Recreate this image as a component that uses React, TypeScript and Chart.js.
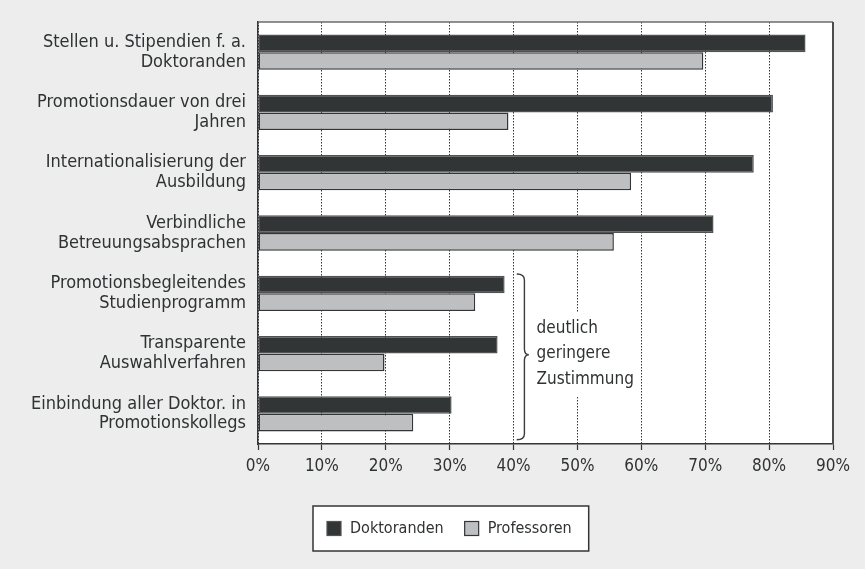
import React, { useEffect, useRef } from "react";
import { Chart, registerables } from "chart.js";

Chart.register(...registerables);

const categories: string[][] = [
  ["Stellen u. Stipendien f. a.", "Doktoranden"],
  ["Promotionsdauer von drei", "Jahren"],
  ["Internationalisierung der", "Ausbildung"],
  ["Verbindliche", "Betreuungsabsprachen"],
  ["Promotionsbegleitendes", "Studienprogramm"],
  ["Transparente", "Auswahlverfahren"],
  ["Einbindung aller Doktor. in", "Promotionskollegs"],
];
const doktoranden: number[] = [85.7, 80.6, 77.6, 71.3, 38.6, 37.5, 30.3];
const professoren: number[] = [69.7, 39.2, 58.4, 55.7, 34.0, 19.8, 24.3];
const seriesNames: string[] = ["Doktoranden", "Professoren"];
const xTicks: number[] = [0, 10, 20, 30, 40, 50, 60, 70, 80, 90];
const noteLines: string[] = ["deutlich", "geringere", "Zustimmung"];

const FONT = "'DejaVu Sans Condensed', 'Liberation Sans Narrow', 'Liberation Sans', sans-serif";
const TEXT = "#2f3233";
const BG = "#ECEDEC";

const bgPlugin = {
  id: "bgPlugin",
  beforeDraw(chart: any) {
    const { ctx, chartArea: a } = chart;
    ctx.save();
    ctx.fillStyle = BG;
    ctx.fillRect(0, 0, chart.width, chart.height);
    ctx.fillStyle = "#ffffff";
    ctx.fillRect(a.left, a.top, a.right - a.left, a.bottom - a.top);
    ctx.restore();
  },
  afterDraw(chart: any) {
    const { ctx, chartArea: a } = chart;
    ctx.save();
    ctx.strokeStyle = "#6a6c6d";
    ctx.lineWidth = 1.5;
    ctx.beginPath();
    ctx.moveTo(a.left, a.top);
    ctx.lineTo(a.right, a.top);
    ctx.stroke();
    ctx.strokeStyle = "#4a4c4d";
    ctx.lineWidth = 2;
    ctx.beginPath();
    ctx.moveTo(a.right, a.top);
    ctx.lineTo(a.right, a.bottom);
    ctx.stroke();
    ctx.restore();
  },
};

const notePlugin = {
  id: "notePlugin",
  afterDatasetsDraw(chart: any) {
    const { ctx } = chart;
    const xs = chart.scales.x;
    const ys = chart.scales.y;
    const yTop = ys.getPixelForValue(3.68);
    const yBot = ys.getPixelForValue(6.43);
    const yMid = ys.getPixelForValue(5.02);
    const x0 = xs.getPixelForValue(40.5);
    const x1 = xs.getPixelForValue(41.7);
    const x2 = xs.getPixelForValue(42.4);
    const r = 6;
    ctx.save();
    ctx.strokeStyle = "#3a3c3d";
    ctx.lineWidth = 1.4;
    ctx.beginPath();
    ctx.moveTo(x0, yTop);
    ctx.quadraticCurveTo(x1, yTop, x1, yTop + r);
    ctx.lineTo(x1, yMid - r);
    ctx.quadraticCurveTo(x1, yMid, x2, yMid);
    ctx.quadraticCurveTo(x1, yMid, x1, yMid + r);
    ctx.lineTo(x1, yBot - r);
    ctx.quadraticCurveTo(x1, yBot, x0, yBot);
    ctx.stroke();

    ctx.font = `17px ${FONT}`;
    const tx = xs.getPixelForValue(43.6);
    const lh = 25.5;
    const widths = noteLines.map((l) => ctx.measureText(l).width);
    const w = Math.max(...widths);
    ctx.fillStyle = "#ffffff";
    ctx.fillRect(tx - 2, yMid - lh * 1.5 - 4, w + 3, lh * 3 + 8);
    ctx.fillStyle = TEXT;
    ctx.textAlign = "left";
    ctx.textBaseline = "middle";
    noteLines.forEach((l, i) => {
      ctx.fillText(l, tx, yMid + (i - 1) * lh - 1);
    });
    ctx.restore();
  },
};

const legendPlugin = {
  id: "boxLegend",
  afterDraw(chart: any) {
    const { ctx } = chart;
    const left = 313;
    const top = 506;
    const h = 45;
    ctx.save();
    ctx.font = `16px ${FONT}`;
    const items = chart.data.datasets.map((d: any) => ({
      label: d.label,
      bg: d.backgroundColor,
      bd: d.borderColor,
      w: ctx.measureText(d.label).width,
    }));
    const padL = 14;
    const box = 14;
    const gap = 9;
    const between = 21;
    const padR = 17;
    let width = padL + padR;
    items.forEach((it: any, i: number) => {
      width += box + gap + it.w + (i > 0 ? between : 0);
    });
    ctx.fillStyle = "#ffffff";
    ctx.fillRect(left, top, width, h);
    ctx.strokeStyle = "#333536";
    ctx.lineWidth = 1.5;
    ctx.strokeRect(left, top, width, h);
    let x = left + padL;
    const cy = top + h / 2;
    items.forEach((it: any, i: number) => {
      if (i > 0) x += between;
      ctx.fillStyle = it.bg;
      ctx.fillRect(x, cy - box / 2, box, box);
      ctx.strokeStyle = it.bd;
      ctx.lineWidth = 1.2;
      ctx.strokeRect(x, cy - box / 2, box, box);
      x += box + gap;
      ctx.fillStyle = TEXT;
      ctx.textAlign = "left";
      ctx.textBaseline = "middle";
      ctx.fillText(it.label, x, cy);
      x += it.w;
    });
    ctx.restore();
  },
};

export default function App() {
  const ref = useRef<HTMLCanvasElement | null>(null);
  useEffect(() => {
    if (!ref.current) return;
    const chart = new Chart(ref.current, {
      type: "bar",
      data: {
        labels: categories,
        datasets: [
          {
            label: seriesNames[0],
            data: doktoranden,
            backgroundColor: "#323536",
            borderColor: "#505253",
            borderWidth: 1.5,
            borderSkipped: false,
          },
          {
            label: seriesNames[1],
            data: professoren,
            backgroundColor: "#BEBFC0",
            borderColor: "#333536",
            borderWidth: 1.5,
            borderSkipped: false,
          },
        ],
      },
      options: {
        indexAxis: "y",
        animation: false,
        responsive: false,
        maintainAspectRatio: false,
        layout: { padding: { top: 22, right: 32, bottom: 0, left: 0 } },
        datasets: { bar: { barPercentage: 1, categoryPercentage: 0.585 } },
        plugins: {
          legend: { display: false },
          tooltip: { enabled: false },
        },
        scales: {
          x: {
            type: "linear",
            min: 0,
            max: 90,
            afterBuildTicks(scale: any) {
              scale.ticks = xTicks.map((v) => ({ value: v }));
            },
            afterFit(scale: any) {
              scale.height = 569 - 444;
              scale.paddingLeft = 0;
              scale.paddingRight = 0;
            },
            ticks: {
              callback: (v: any) => `${v}%`,
              color: TEXT,
              font: { family: FONT, size: 17 },
              padding: 6,
            },
            grid: {
              color: "#333536",
              lineWidth: 1,
              drawTicks: true,
              tickLength: 6,
              tickColor: "#333536",
              tickWidth: 1.2,
              tickBorderDash: [],
            },
            border: { display: true, color: "#333536", width: 1.5, dash: [1.5, 1.5] },
          },
          y: {
            type: "category",
            afterFit(scale: any) {
              scale.width = 258;
              scale.paddingTop = 0;
              scale.paddingBottom = 0;
            },
            ticks: {
              color: TEXT,
              font: { family: FONT, size: 18, lineHeight: 1.1 },
              padding: 12,
              crossAlign: "near",
            },
            grid: { display: false, drawTicks: false },
            border: { display: true, color: "#333536", width: 1.5 },
          },
        },
      },
      plugins: [bgPlugin, notePlugin, legendPlugin],
    });
    return () => chart.destroy();
  }, []);
  return (
    <div style={{ position: "absolute", left: 0, top: 0, width: 865, height: 569 }}>
      <canvas ref={ref} width={865} height={569} style={{ width: 865, height: 569, display: "block" }} />
    </div>
  );
}
